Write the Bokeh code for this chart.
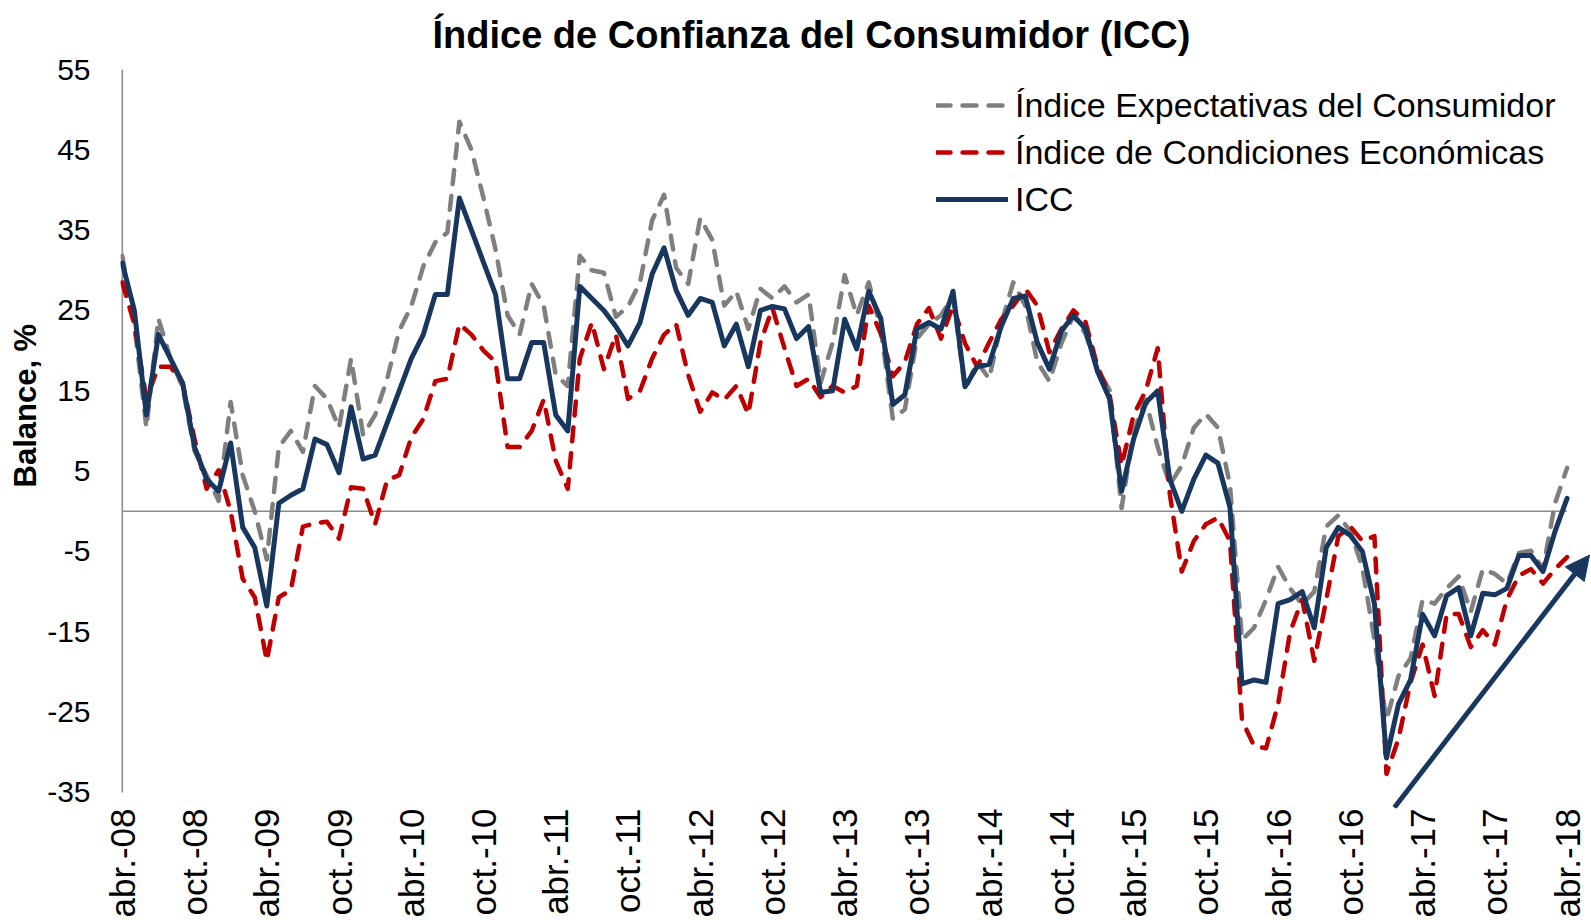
import math
from bokeh.plotting import figure
from bokeh.models import (Range1d, FixedTicker, Legend, LegendItem, Arrow, Title,
                          NormalHead, ColumnDataSource)
from bokeh.embed import file_html
from bokeh.resources import INLINE

# ---------------- data ----------------
tick_labels = ["abr.-08", "oct.-08", "abr.-09", "oct.-09", "abr.-10", "oct.-10",
               "abr.-11", "oct.-11", "abr.-12", "oct.-12", "abr.-13", "oct.-13",
               "abr.-14", "oct.-14", "abr.-15", "oct.-15", "abr.-16", "oct.-16",
               "abr.-17", "oct.-17", "abr.-18"]
tick_positions = list(range(0, 121, 6))
y_ticks = [-35, -25, -15, -5, 5, 15, 25, 35, 45, 55]
y_tick_labels = ["-35", "-25", "-15", "-5", "5", "15", "25", "35", "45", "55"]

months = list(range(121))  # abr-08 ... abr-18

icc = [30.9, 25, 12, 22, 19, 16, 8, 4, 2.5, 8.5,
       -2, -4.5, -11.8, 1, 2, 2.8, 9, 8.3, 4.8, 13,
       6.5, 7, 11, 15, 19, 22, 27, 27, 39, 35,
       31, 27, 16.5, 16.5, 21, 21, 12, 10, 28, 26.5,
       25, 23, 20.6, 23.5, 29.5, 32.8, 27.5, 24.4, 26.5, 26,
       20.6, 23.3, 18, 25, 25.5, 25.2, 21.5, 23, 14.8, 15,
       23.9, 20.2, 27.4, 24, 13.3, 14.5, 22.7, 23.5, 22.7, 27.4,
       15.5, 18, 18.3, 23, 26.5, 26.8, 21, 17.7, 22.4, 24.4,
       22.7, 17.4, 14, 2.5, 9, 13.5, 15, 4, 0, 4,
       7, 6, 0.5, -21.5, -21, -21.3, -11.5, -11, -10, -14.5,
       -4.5, -2, -3, -5, -11.5, -30.7, -24, -21, -12.8, -15.5,
       -10.5, -9.5, -15.5, -10.2, -10.4, -9.6, -5.5, -5.5, -7.5, -2.5,
       1.6]

expectativas = [31.8, 23.3, 10.4, 24, 19, 15.5, 7.5, 4.5, 1.3, 13.6,
                4.5, 0, -6, 8, 10, 7.4, 15.6, 14, 10.4, 19,
                9.5, 12, 16.5, 22.5, 25.5, 30.5, 33.5, 34.7, 48.5, 45,
                39, 32.6, 24.4, 22, 28.3, 25.6, 17, 15.6, 31.8, 30,
                29.7, 24.2, 25.5, 28.5, 36.2, 39.4, 30.3, 28.3, 36.5, 33.8,
                25.6, 27.4, 22.7, 27.7, 26.5, 28, 26, 27, 16, 21,
                29.4, 24.4, 28.5, 22.7, 11.5, 12.7, 21.5, 23.3, 24.4, 26.8,
                15.1, 18.6, 16.5, 23.3, 28.5, 25.6, 18.6, 16.2, 20.9, 24.4,
                22.1, 17.7, 15.1, 0.4, 10, 13.9, 8, 3.3, 5.7, 10.4,
                12.1, 10.4, 3.3, -16, -14.5, -11, -6.9, -9.6, -11.6, -10,
                -1.9, -0.5, -2.5, -7, -16, -26, -20.5, -18.3, -11, -11.5,
                -9.6, -8.1, -12.5, -7.2, -7.8, -9, -5.2, -4.9, -7.2, 1,
                5.4]

condiciones = [28.5, 23.3, 14, 18, 18, 16, 9, 2.8, 5.1, 0,
               -8.4, -10.7, -18.6, -10.7, -9.8, -1.9, -1.5, -1.3, -3.4, 3,
               2.8, -1.6, 3.9, 4.5, 9.2, 11.5, 16.2, 16.5, 23.3, 22,
               20, 18.6, 8, 8, 10, 13.9, 6.3, 2.8, 19, 23.5,
               17.7, 22, 14, 15, 19, 22, 23.3, 17, 12.4, 14.8,
               13.9, 15.6, 12.1, 21, 25.3, 20.3, 15.6, 16.5, 14.2, 15.6,
               14.8, 15.6, 25.6, 22.1, 16.8, 18.6, 23.3, 25.3, 21.5, 25.6,
               20.9, 18, 21, 23.9, 25.6, 27.7, 25.6, 19.8, 22.7, 25,
               23.6, 18, 14.5, 5.7, 12, 15, 20.3, 2.2, -7.5, -3.7,
               -1.6, -0.8, -3.7, -26, -29.2, -29.5, -24, -15, -11, -18.6,
               -11, -3.1, -1.9, -3.7, -3.1, -32.7, -28.3, -21.3, -16.6, -23,
               -12.8, -12.8, -16.9, -14.8, -16.6, -11, -8, -7.2, -9, -7.2,
               -5.7]

series_names = ["Índice Expectativas del Consumidor",
                "Índice de Condiciones Económicas",
                "ICC"]

# trend arrow annotation (start/end in chart coordinates)
arrow_start = (105.66, -36.87)
arrow_end = (121.86, -5.46)

# ---------------- styling ----------------
GRAY = "#7F7F7F"
RED = "#C00000"
NAVY = "#17375E"
AXIS = "#8C8C8C"
FONT = "Liberation Sans"

src = ColumnDataSource(dict(m=months, icc=icc, exp=expectativas, cond=condiciones))

p = figure(width=1591, height=920, output_backend="svg", toolbar_location=None,
           x_range=Range1d(-0.15, 122.03), y_range=Range1d(-37, 55),
           min_border_left=120, min_border_right=0, min_border_top=69,
           min_border_bottom=111)
p.outline_line_color = None
p.xgrid.grid_line_color = None
p.ygrid.grid_line_color = None
p.background_fill_color = "white"

# title
p.title.text = "Índice de Confianza del Consumidor (ICC)"
p.title.align = "left"
p.title.offset = 312
p.title.vertical_align = "top"
p.title.standoff = 24
p.title.text_font = FONT
p.title.text_font_style = "bold"
p.title.text_font_size = "38px"
p.title.text_color = "black"

# axes lines (zero line and vertical axis)
p.segment(x0=[months[0]], x1=[months[-1]], y0=[0], y1=[0], line_color=AXIS, line_width=1.6)
p.segment(x0=[months[0]], x1=[months[0]], y0=[y_ticks[0]], y1=[y_ticks[-1]],
          line_color=AXIS, line_width=1.6)

r_exp = p.line("m", "exp", source=src, line_color=GRAY, line_width=4.5,
               line_dash="14 12", line_cap="round", line_join="round")
r_cond = p.line("m", "cond", source=src, line_color=RED, line_width=4.5,
                line_dash="14 12", line_cap="round", line_join="round")
r_icc = p.line("m", "icc", source=src, line_color=NAVY, line_width=5,
               line_cap="round", line_join="round")

# y axis
p.yaxis.ticker = FixedTicker(ticks=y_ticks)
p.yaxis.major_label_overrides = {t: lab for t, lab in zip(y_ticks, y_tick_labels)}
p.yaxis.axis_line_color = None
p.yaxis.major_tick_line_color = None
p.yaxis.major_tick_out = 0
p.yaxis.major_tick_in = 0
p.yaxis.minor_tick_line_color = None
p.yaxis.minor_tick_out = 0
p.yaxis.major_label_standoff = 30
p.yaxis.major_label_text_font = FONT
p.yaxis.major_label_text_font_size = "30px"
p.yaxis.major_label_text_color = "black"

# x axis
p.xaxis.ticker = FixedTicker(ticks=tick_positions)
p.xaxis.major_label_overrides = {t: lab for t, lab in zip(tick_positions, tick_labels)}
p.xaxis.axis_line_color = None
p.xaxis.major_tick_line_color = None
p.xaxis.major_tick_out = 0
p.xaxis.major_tick_in = 0
p.xaxis.minor_tick_line_color = None
p.xaxis.minor_tick_out = 0
p.xaxis.major_label_orientation = math.pi / 2
p.xaxis.major_label_standoff = 0
p.xaxis.major_label_text_font = FONT
p.xaxis.major_label_text_font_size = "35px"
p.xaxis.major_label_text_color = "black"

# vertical axis title
p.add_layout(Title(text="Balance, %", align="left", offset=321, standoff=4,
                   text_font=FONT, text_font_style="bold", text_font_size="31px",
                   text_color="black"), "left")

# arrow
p.add_layout(Arrow(end=NormalHead(size=24, fill_color=NAVY, line_color=NAVY),
                   x_start=arrow_start[0], y_start=arrow_start[1],
                   x_end=arrow_end[0], y_end=arrow_end[1],
                   line_color=NAVY, line_width=5))

legend = Legend(items=[LegendItem(label=series_names[0], renderers=[r_exp]),
                       LegendItem(label=series_names[1], renderers=[r_cond]),
                       LegendItem(label=series_names[2], renderers=[r_icc])],
                location=(816, 589), orientation="vertical",
                glyph_width=72, glyph_height=40, label_height=40,
                label_standoff=7, spacing=7, padding=0, margin=0,
                border_line_color=None, background_fill_alpha=0,
                label_text_font=FONT, label_text_font_size="34px",
                label_text_color="black")
p.add_layout(legend)

open("out.html", "w").write(file_html(p, INLINE))
